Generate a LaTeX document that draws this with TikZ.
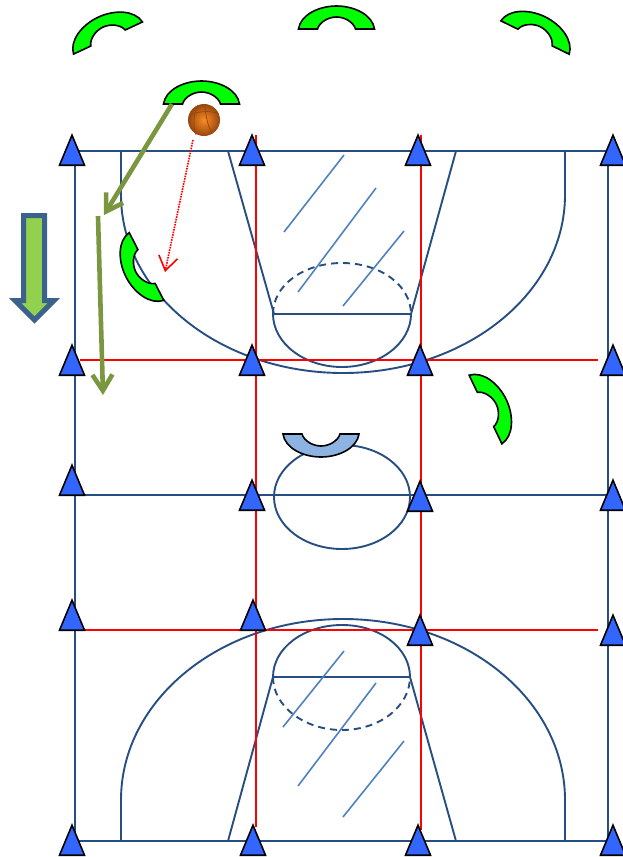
\documentclass[tikz,border=0pt]{standalone}
\usepackage{xcolor}
\usepackage{tikz}
\usetikzlibrary{arrows.meta,shapes.geometric}
\definecolor{courtblue}{RGB}{38,78,128}
\definecolor{hatchblue}{RGB}{79,129,189}
\definecolor{conefill}{RGB}{51,102,255}
\definecolor{seatblue}{RGB}{141,179,226}
\definecolor{passgreen}{RGB}{122,150,62}
\definecolor{blockgreen}{RGB}{146,208,80}
\definecolor{blockedge}{RGB}{59,98,140}
\definecolor{ballorange}{RGB}{250,140,35}
\definecolor{balldark}{RGB}{150,70,15}
\tikzset{
  court/.style={draw=courtblue,line width=1.9pt},
  courtdash/.style={court,dash pattern=on 7pt off 5pt},
  hatch/.style={draw=hatchblue,line width=1.6pt},
  redline/.style={draw=red,line width=1.9pt},
  cone/.style={isosceles triangle,isosceles triangle stretches,shape border rotate=90,draw=black,line width=1.6pt,fill=conefill,minimum width=25pt,minimum height=30pt,inner sep=0pt,anchor=lower side},
  pass/.style={draw=passgreen,line width=4.6pt,-{Straight Barb[length=16pt,width=20pt]}},
  seat/.pic={\draw[black,line width=1.6pt,fill=#1] (-38,0) .. controls (-36,-14) and (-18,-23) .. (0,-23) .. controls (18,-23) and (36,-14) .. (38,0) -- (19,0) .. controls (17,-7) and (8,-12) .. (0,-12) .. controls (-8,-12) and (-17,-7) .. (-19,0) -- cycle;}
}
\begin{document}
\begin{tikzpicture}[x=1pt,y=-1pt]
\useasboundingbox (0,0) rectangle (623,857);
% court
\draw[court] (75,151) -- (608,151) -- (608,841) -- (75,841) -- cycle;
\draw[court] (121,151) -- (121,195) .. controls (121,293) and (220,373) .. (343,373) .. controls (466,373) and (565,293) .. (565,195) -- (565,151);
\draw[court] (121,841) -- (121,800) .. controls (121,700) and (220,619) .. (343,619) .. controls (466,619) and (565,700) .. (565,800) -- (565,841);
% keys
\draw[court] (228,151) -- (274,314) -- (411,314) -- (456,151);
\draw[court] (228,841) -- (273,677) -- (410,677) -- (456,841);
\draw[court] (273,314) .. controls (273,343) and (304,367) .. (342,367) .. controls (380,367) and (411,343) .. (411,314);
\draw[courtdash] (273,314) .. controls (273,285) and (304,263) .. (342,263) .. controls (380,263) and (411,285) .. (411,314);
\draw[court] (273,677) .. controls (273,648) and (304,625) .. (342,625) .. controls (380,625) and (410,648) .. (410,677);
\draw[courtdash] (273,677) .. controls (273,706) and (304,730) .. (342,730) .. controls (380,730) and (410,706) .. (410,677);
\draw[court] (342,497) ellipse [x radius=68,y radius=52];
% shading in the keys
\foreach \xa/\ya/\xb/\yb in {284/232/344/155,298/292/376/188,343/306/404/231,283/727/344/651,298/786/376/683,343/817/404/741}{
  \draw[hatch] (\xa,\ya) -- (\xb,\yb);}
% red grid
\draw[redline] (256,135) -- (256,827);
\draw[redline] (421,135) -- (421,830);
\draw[redline] (80,360) -- (598,360);
\draw[redline] (85,630) -- (598,630);
\draw[court] (75,495) -- (608,495);
% cones
\foreach \nm/\x/\y in {a/72/166,b/252/166,c/418/166,d/613/166,e/72/376,f/252/376,g/420/376,h/613/376,i/72/496,j/252/511,k/420/512,l/613/511,m/72/631,n/253/631,o/420/646,p/613/646,q/72/856,r/253/856,s/418/856,t/613/856}{
  \node[cone] (cone\nm) at (\x,\y) {};}
% seats
\pic[rotate=25] at (108,38) {seat=green};
\pic at (336.5,29) {seat=green};
\pic[rotate=-26] at (535,37.5) {seat=green};
\pic at (201.5,104) {seat=green};
\pic[rotate=117] at (146.5,266.5) {seat=green};
\pic[rotate=-64.5] at (485.5,409.5) {seat=green};
\pic[rotate=180] at (321,434) {seat=seatblue};
% ball
\node[circle,minimum size=32pt,inner sep=0pt,shade,inner color=ballorange,outer color=balldark] (ball) at (204,120) {};
\draw[balldark,line width=.7pt] (198,105) .. controls (193,114) and (193,126) .. (196,135);
\draw[balldark,line width=.7pt] (205,105) .. controls (205,114) and (208,126) .. (212,134);
\draw[balldark,line width=.7pt] (189,116) .. controls (197,111) and (210,110) .. (219,114);
% passes
\coordinate (passa) at (172,104);
\coordinate (passb) at (104,215);
\coordinate (cutstart) at (98,216);
\coordinate (cutend) at (103,395);
\coordinate (ballpass) at (193,140);
\coordinate (ballend) at (165,272);
\draw[pass] (passa) -- (passb);
\draw[pass] (cutstart) -- (cutend);
\draw[red,line width=1.6pt,densely dotted,-{Straight Barb[length=14pt,width=19pt,line width=1.6pt]}] (ballpass) -- (ballend);
% big arrow
\draw[draw=blockedge,fill=blockgreen,line width=5pt] (23.5,215.5) -- (44.5,215.5) -- (44.5,300.5) -- (54,300.5) -- (34.5,320) -- (15,300.5) -- (23.5,300.5) -- cycle;
\end{tikzpicture}
\end{document}
